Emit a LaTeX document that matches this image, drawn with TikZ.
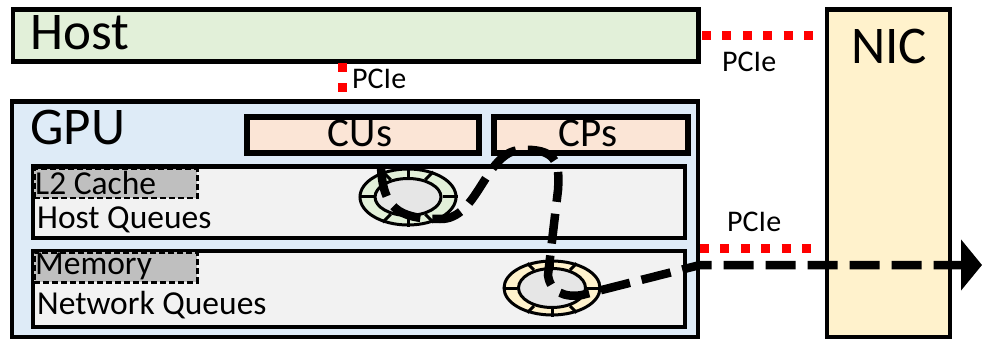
\documentclass[tikz,border=0pt]{standalone}
\usepackage{fontspec}
\setmainfont{Carlito}
\usepackage{tikz}
\usetikzlibrary{shapes,positioning,arrows.meta}

\definecolor{hostgreen}{HTML}{E2F0D9}
\definecolor{gpublue}{HTML}{DEEBF7}
\definecolor{unitpeach}{HTML}{FBE5D6}
\definecolor{queuegray}{HTML}{F2F2F2}
\definecolor{memgray}{HTML}{BFBFBF}
\definecolor{nicyellow}{HTML}{FFF2CC}
\definecolor{slotgray}{HTML}{E6E6E6}

\tikzset{
  box/.style={draw=black, line width=4.5pt, rectangle, inner sep=0pt, anchor=north west},
  unitbox/.style={box, line width=6pt, fill=unitpeach},
  qbox/.style={box, fill=queuegray},
  membox/.style={draw=black, line width=2.5pt, dash pattern=on 6pt off 3pt, fill=memgray, rectangle, inner sep=0pt, anchor=north west},
  ring/.style={draw=black, line width=3pt, ellipse, inner sep=0pt},
  bigtxt/.style={inner sep=0pt, font=\fontsize{53}{60}\selectfont},
  midtxt/.style={inner sep=0pt, font=\fontsize{41}{48}\selectfont},
  qtxt/.style={inner sep=0pt, anchor=base west, font=\fontsize{33.5}{40}\selectfont},
  lbl/.style={inner sep=0pt, anchor=base west, font=\fontsize{30}{36}\selectfont},
  pcie/.style={draw=red, line width=9pt, dash pattern=on 9pt off 11.4pt},
  flow/.style={draw=black, line width=8.5pt, dash pattern=on 30pt off 12pt, -{Triangle[length=21pt,width=50pt]}}
}

\begin{document}
\begin{tikzpicture}[x=1pt, y=-1pt]
  \useasboundingbox (0,0) rectangle (982,339);

  % boxes
  \node[box, fill=hostgreen, minimum width=685.5pt, minimum height=52pt] (host) at (10.5,7.5) {};
  \node[box, fill=nicyellow, minimum width=123pt, minimum height=327pt] (nic) at (824.5,7.5) {};
  \node[box, fill=gpublue, minimum width=686pt, minimum height=235pt] (gpu) at (9.5,99.5) {};
  \node[unitbox, minimum width=232pt, minimum height=36pt] (cus) at (244,114) {};
  \node[unitbox, minimum width=194pt, minimum height=36pt] (cps) at (491,114) {};
  \node[qbox, minimum width=652pt, minimum height=71pt] (hostq) at (30.5,164.5) {};
  \node[qbox, minimum width=652pt, minimum height=76pt] (netq) at (30.5,248.5) {};
  \node[membox, minimum width=163pt, minimum height=29pt] (l2) at (33,168) {};
  \node[membox, minimum width=163pt, minimum height=30pt] (mem) at (33,251) {};

  % labels
  \node[bigtxt, anchor=base west] (host label) at (30,50) {Host};
  \node[bigtxt, anchor=base west] (gpu label) at (30,145) {GPU};
  \node[bigtxt, anchor=base] (nic label) at (889,64) {NIC};
  \node[midtxt, anchor=base] (cus label) at (360,147) {CUs};
  \node[midtxt, anchor=base] (cps label) at (588,147) {CPs};
  \node[qtxt] (l2 label) at (35,194) {L2 Cache};
  \node[qtxt] (hostq label) at (37,229) {Host Queues};
  \node[qtxt] (mem label) at (35,274) {Memory};
  \node[qtxt] (netq label) at (37,314) {Network Queues};

  % queue rings
  \node[ring, fill=hostgreen, minimum width=96pt, minimum height=56pt] (hring) at (408,197) {};
  \node[ring, fill=slotgray, minimum width=66pt, minimum height=37pt] (hslot) at (408,197) {};
  \foreach \a in {0,45,...,315}
    \draw[line width=3pt] (hslot.\a) -- (hring.\a);
  \node[ring, fill=nicyellow, minimum width=96pt, minimum height=54pt] (nring) at (552,288) {};
  \node[ring, fill=slotgray, minimum width=67pt, minimum height=39pt] (nslot) at (552,288) {};
  \foreach \a in {0,45,...,315}
    \draw[line width=3pt] (nslot.\a) -- (nring.\a);

  % PCIe links
  \coordinate (hostpcie) at (342,60);
  \draw[pcie] ([yshift=-3pt]hostpcie) -- (hostpcie |- gpu.north);
  \node[lbl] (pcie a) at (352,89) {PCIe};
  \draw[pcie] (702,36) -- ([xshift=-7pt]nic.west |- 0,36);
  \node[lbl] (pcie b) at (722,72) {PCIe};
  \draw[pcie] (700,248) -- ([xshift=-9pt]nic.west |- 0,248);
  \node[lbl] (pcie c) at (727,231) {PCIe};

  % packet flow
  \coordinate (flowstart) at (381,167);
  \coordinate (wire) at (982,265);
  \draw[flow] (flowstart) .. controls (383,207) and (397,219) .. (440,219)
    .. controls (478,220) and (485,152) .. (520,150)
    .. controls (556,148) and (560,162) .. (558,190)
    -- (548,275) .. controls (550,292) and (565,298) .. (582,295)
    -- (700,265) -- (wire);
\end{tikzpicture}
\end{document}
